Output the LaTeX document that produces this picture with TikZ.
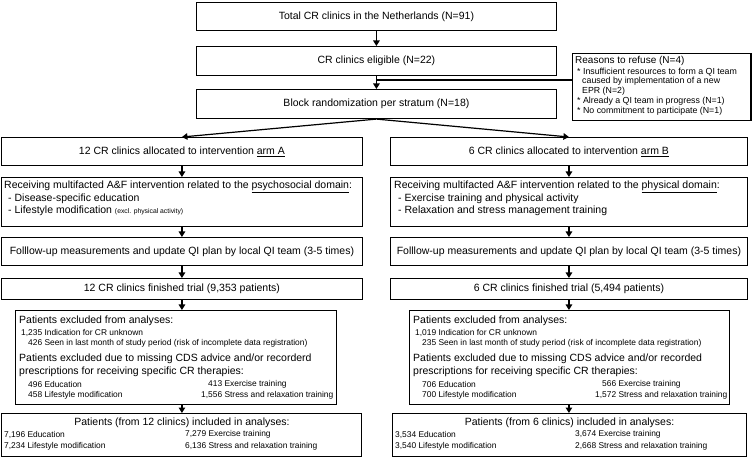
\documentclass[tikz,border=0pt]{standalone}
\usepackage{fontspec}
\setmainfont{Liberation Sans}
\usetikzlibrary{arrows.meta}
\newcommand\tinyf{\fontsize{6.8bp}{8bp}\selectfont}
\begin{document}
\begin{tikzpicture}[x=1bp,y=-1bp,
  box/.style={draw, line width=1.2bp, inner sep=0pt, anchor=north west, font=\fontsize{10.5bp}{12.6bp}\selectfont},
  conn/.style={line width=1.2bp, -{Triangle[width=6.5bp,length=5.5bp]}},
  link/.style={line width=1.1bp},
  big/.style={inner sep=0pt, anchor=west, font=\fontsize{10.5bp}{12.6bp}\selectfont},
  mid/.style={inner sep=0pt, anchor=west, font=\fontsize{10bp}{11bp}\selectfont},
  small/.style={inner sep=0pt, anchor=west, font=\fontsize{8.4bp}{10bp}\selectfont},
  rsmall/.style={inner sep=0pt, anchor=west, font=\fontsize{8.8bp}{10bp}\selectfont},
]
\useasboundingbox (0,0) rectangle (754,468);

% top column
\node[box, minimum width=361, minimum height=28] (top1) at (196,2) {Total CR clinics in the Netherlands (N=91)};
\node[box, minimum width=361, minimum height=29] (top2) at (196,46) {CR clinics eligible (N=22)};
\node[box, minimum width=361, minimum height=29] (top3) at (196,89) {Block randomization per stratum (N=18)};

% reasons
\node[box, minimum width=179, minimum height=67] (reasons) at (572,53) {};
\node[mid] (r0) at (575,61) {Reasons to refuse (N=4)};
\node[rsmall] (r1) at (577,72) {* Insufficient resources to form a QI team};
\node[rsmall] (r2) at (582,81.5) {caused by implementation of a new};
\node[rsmall] (r3) at (582,91) {EPR (N=2)};
\node[rsmall] (r4) at (577,101) {* Already a QI team in progress (N=1)};
\node[rsmall] (r5) at (577,111) {* No commitment to participate (N=1)};

% arm A
\node[box, minimum width=362, minimum height=28] (armA) at (1,137) {12 CR clinics allocated to intervention \underline{arm A}};
\node[box, minimum width=362, minimum height=49] (recA) at (1,177) {};
\node[big] (ra1) at (4,187) {Receiving multifacted A\&F intervention related to the \underline{psychosocial domain}:};
\node[big] (ra2) at (8,199) {- Disease-specific education};
\node[big] (ra3) at (8,211) {- Lifestyle modification {\tinyf (excl. physical activity)}};
\node[box, minimum width=362, minimum height=28] (folA) at (1,237) {Folllow-up measurements and update QI plan by local QI team (3-5 times)};
\node[box, minimum width=362, minimum height=21] (finA) at (1,278) {12 CR clinics finished trial (9,353 patients)};
\node[box, minimum width=322, minimum height=94] (excA) at (15,310) {};
\node[big] (ea1) at (19,321) {Patients excluded from analyses:};
\node[small] (ea2) at (21,332.5) {1,235 Indication for CR unknown};
\node[small] (ea3) at (28,343) {426 Seen in last month of study period (risk of incomplete data registration)};
\node[big] (ea4) at (19,359) {Patients excluded due to missing CDS advice and/or recorderd};
\node[big] (ea5) at (19,371.5) {prescriptions for receiving specific CR therapies:};
\node[small] (ea6) at (28,384) {496 Education};
\node[small] (ea7) at (208,384) {413 Exercise training};
\node[small] (ea8) at (28,395) {458 Lifestyle modification};
\node[small] (ea9) at (201,395) {1,556 Stress and relaxation training};
\node[box, minimum width=361, minimum height=43] (incA) at (1,413) {};
\node[inner sep=0pt, font=\fontsize{10.5bp}{12.6bp}\selectfont] (ia0) at (182,422.5) {Patients (from 12 clinics) included in analyses:};
\node[small] (ia1) at (4,434.5) {7,196 Education};
\node[small] (ia2) at (185,434.5) {7,279 Exercise training};
\node[small] (ia3) at (4,446.5) {7,234 Lifestyle modification};
\node[small] (ia4) at (185,446.5) {6,136 Stress and relaxation training};

% arm B
\node[box, minimum width=358, minimum height=28] (armB) at (390,137) {6 CR clinics allocated to intervention \underline{arm B}};
\node[box, minimum width=358, minimum height=49] (recB) at (390,177) {};
\node[big] (rb1) at (394,187) {Receiving multifacted A\&F intervention related to the \underline{physical domain}:};
\node[big] (rb2) at (398,199) {- Exercise training and physical activity};
\node[big] (rb3) at (398,211) {- Relaxation and stress management training};
\node[box, minimum width=358, minimum height=28] (folB) at (390,237) {Folllow-up measurements and update QI plan by local QI team (3-5 times)};
\node[box, minimum width=358, minimum height=21] (finB) at (390,278) {6 CR clinics finished trial (5,494 patients)};
\node[box, minimum width=321, minimum height=94] (excB) at (409,310) {};
\node[big] (eb1) at (413,321) {Patients excluded from analyses:};
\node[small] (eb2) at (415,332.5) {1,019 Indication for CR unknown};
\node[small] (eb3) at (422,343) {235 Seen in last month of study period (risk of incomplete data registration)};
\node[big] (eb4) at (413,359) {Patients excluded due to missing CDS advice and/or recorded};
\node[big] (eb5) at (413,371.5) {prescriptions for receiving specific CR therapies:};
\node[small] (eb6) at (422,384) {706 Education};
\node[small] (eb7) at (602,384) {566 Exercise training};
\node[small] (eb8) at (422,395) {700 Lifestyle modification};
\node[small] (eb9) at (595,395) {1,572 Stress and relaxation training};
\node[box, minimum width=355, minimum height=43] (incB) at (392,413) {};
\node[inner sep=0pt, font=\fontsize{10.5bp}{12.6bp}\selectfont] (ib0) at (569.5,422.5) {Patients (from 6 clinics) included in analyses:};
\node[small] (ib1) at (395,434.5) {3,534 Education};
\node[small] (ib2) at (575,434.5) {3,674 Exercise training};
\node[small] (ib3) at (395,446.5) {3,540 Lifestyle modification};
\node[small] (ib4) at (575,446.5) {2,668 Stress and relaxation training};

% connectors
\draw[conn] (top1.south) -- (top2.north);
\draw[conn] (top2.south) -- (top3.north);
\coordinate (j) at (376.5,80);
\draw[link] (j) -- (j -| reasons.west);
\draw[conn] (top3.south) -- (armA.north);
\draw[conn] (top3.south) -- (armB.north);

\draw[conn] (armA.south) -- (armA.south |- recA.north);
\draw[conn] (recA.south) -- (recA.south |- folA.north);
\draw[conn] (folA.south) -- (folA.south |- finA.north);
\draw[conn] (finA.south) -- (finA.south |- excA.north);
\draw[conn] (finA.south |- excA.south) -- (finA.south |- incA.north);

\draw[conn] (armB.south) -- (armB.south |- recB.north);
\draw[conn] (recB.south) -- (recB.south |- folB.north);
\draw[conn] (folB.south) -- (folB.south |- finB.north);
\draw[conn] (finB.south) -- (finB.south |- excB.north);
\draw[conn] (finB.south |- excB.south) -- (finB.south |- incB.north);
\end{tikzpicture}
\end{document}
